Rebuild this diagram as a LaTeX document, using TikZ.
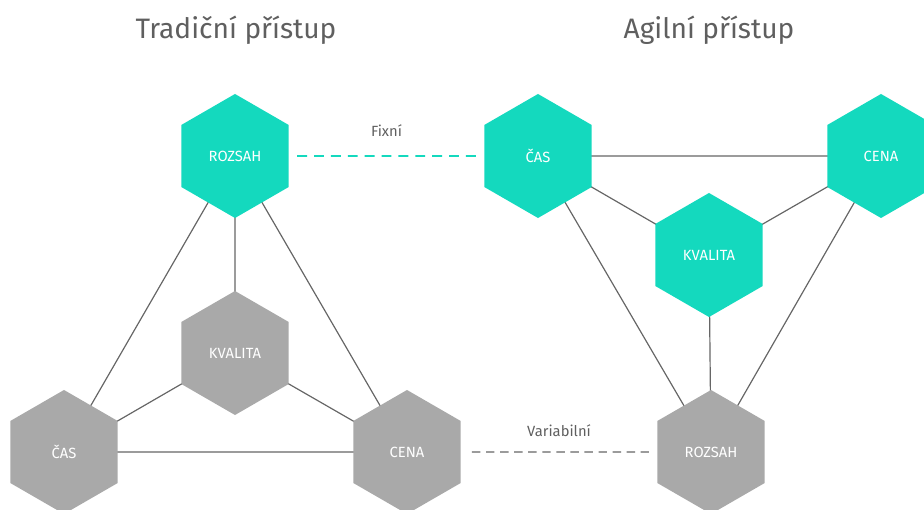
\documentclass[tikz,border=0pt]{standalone}
\usepackage{fontspec}
\setmainfont{Fira Sans}
\usepackage{tikz}
\usetikzlibrary{shapes.geometric,backgrounds}

\definecolor{tyrkys}{HTML}{14D9BE}
\definecolor{sedahex}{HTML}{A9A9A9}
\definecolor{cara}{HTML}{666666}
\definecolor{titul}{HTML}{5F5F5F}

\tikzset{
  hex/.style={regular polygon, regular polygon sides=6, regular polygon rotate=30,
    minimum size=3.1cm, inner sep=0pt, outer sep=0pt, draw=none,
    text=white, font=\fontsize{10.5}{12}\selectfont},
  hexfix/.style={hex, fill=tyrkys},
  hexvar/.style={hex, fill=sedahex},
  spoj/.style={draw=cara, line width=0.85pt},
  nadpis/.style={text=titul, font=\fontsize{20}{22}\selectfont},
  popis/.style={text=titul, font=\fontsize{10.5}{12}\selectfont}
}

\begin{document}
\begin{tikzpicture}[x=0.025cm, y=0.025cm]
    \useasboundingbox (0,0) rectangle (924,510);
    % nadpisy
    \node[nadpis] (tradicni) at (236, 480) {Tradiční přístup};
    \node[nadpis] (agilni) at (709, 480) {Agilní přístup};
    % tradicni pristup
    \node[hexfix] (rozsahT) at (235, 354) {ROZSAH};
    \node[hexvar] (kvalitaT) at (235, 157) {KVALITA};
    \node[hexvar] (casT) at (64, 58) {ČAS};
    \node[hexvar] (cenaT) at (407, 58) {CENA};
    % agilni pristup
    \node[hexfix] (casA) at (538, 354) {ČAS};
    \node[hexfix] (cenaA) at (881, 354) {CENA};
    \node[hexfix] (kvalitaA) at (709, 255) {KVALITA};
    \node[hexvar] (rozsahA) at (711, 58) {ROZSAH};
    \begin{scope}[on background layer]
        \draw[spoj] (rozsahT.center) -- (casT.center) -- (cenaT.center) -- (rozsahT.center) -- (kvalitaT.center);
        \draw[spoj] (casT.center) -- (kvalitaT.center) -- (cenaT.center);
        \draw[spoj] (casA.center) -- (cenaA.center) -- (rozsahA.center) -- (casA.center) -- (kvalitaA.center) -- (cenaA.center);
        \draw[spoj] (kvalitaA.center) -- (rozsahA.center);
    \end{scope}
    % fixni a variabilni
    \draw[tyrkys, line width=1.4pt, dash pattern=on 7pt off 5pt, shorten <=6, shorten >=6] (rozsahT) -- (casA)
        node[midway, above=10pt, popis] (fixni) {Fixní};
    \draw[cara, line width=0.9pt, dash pattern=on 6pt off 4pt, shorten <=8, shorten >=6] (cenaT) -- (rozsahA)
        node[midway, above=7pt, popis] (variabilni) {Variabilní};
\end{tikzpicture}
\end{document}
